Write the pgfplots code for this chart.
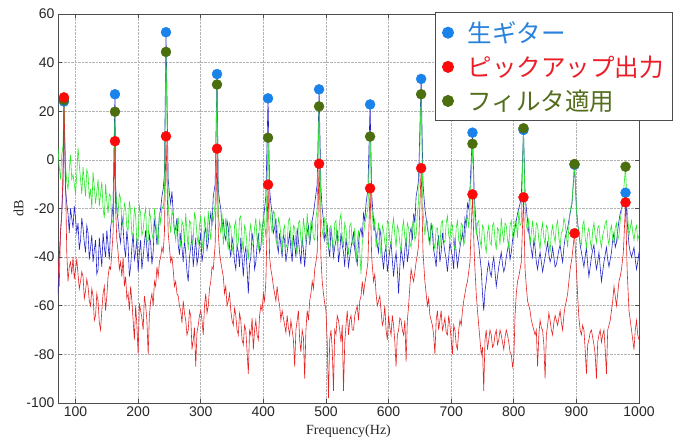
\documentclass[border=0pt]{standalone}
\usepackage{fontspec}
\setmainfont{Liberation Serif}
\newfontfamily\tickfont{Liberation Sans}
\newfontfamily\cjk{Noto Sans CJK JP}
\usepackage{pgfplots}
\usepackage{pgfplotstable}
\pgfplotsset{compat=1.18}
\definecolor{lblue}{RGB}{35,35,200}
\definecolor{lred}{RGB}{228,35,35}
\definecolor{lgreen}{RGB}{40,232,40}
\definecolor{mblue}{RGB}{25,130,235}
\definecolor{mred}{RGB}{250,10,10}
\definecolor{mgreen}{RGB}{75,110,15}
\definecolor{tblue}{RGB}{40,130,220}
\definecolor{tred}{RGB}{235,30,40}
\definecolor{tgreen}{RGB}{85,110,30}

\pgfplotstableread{
f b r g
72 -55 -40 5
74 -40 -52 -3
76 -30 -30 -8
78 -22 -22 2
80 -10 -5 6
81.5 24 25.5 24
84 -12 -8 -2
86 -18 -38 -9
88 -22 -50 -12
90 -30 -44 -4
92 -20 -42 2
94 -24 -47 -8
96 -28 -40 -6
98 -19 -49 -10
100 -24 -45 -14
102 -30 -41 -6
104 -26 -47 5
106 -37 -53 -2
108 -33 -50 -8
110 -24 -46 -14
112 -28 -48 -3
114 -34 -57 -9
116 -38 -54 -15
118 -27 -49 -4
120 -30 -52 -6
122 -41 -58 -16
124 -36 -60 -12
126 -31 -53 -20
128 -42 -56 -5
130 -37 -66 -11
132 -33 -64 -18
134 -47 -55 -13
136 -45 -58 -8
138 -32 -67 -19
140 -38 -70 -14
142 -44 -62 -9
144 -30 -55 -20
146 -36 -52 -24
148 -40 -62 -10
150 -29 -56 -17
152 -35 -48 -22
154 -41 -44 -14
156 -28 -45 -15
158 -24 -38 -26
160 -18 -30 -25
163 27 7.7 19.8
164 -10 -20 -12
166 -21 -33 -19
168 -25 -38 -22
170 -31 -45 -14
172 -34 -42 -16
174 -23 -48 -26
176 -28 -40 -27
178 -36 -52 -18
180 -40 -48 -20
182 -29 -57 -28
184 -35 -55 -29
186 -48 -62 -17
188 -44 -52 -21
190 -36 -58 -31
192 -30 -66 -30
194 -41 -74 -20
196 -38 -60 -23
198 -32 -68 -34
200 -46 -80 -32
202 -38 -59 -19
204 -33 -62 -22
206 -45 -65 -31
208 -40 -70 -29
210 -34 -56 -23
212 -29 -60 -20
214 -37 -66 -34
216 -42 -80 -33
218 -31 -64 -21
220 -34 -58 -24
222 -43 -55 -30
224 -38 -60 -33
226 -25 -50 -20
228 -28 -52 -25
230 -35 -44 -31
232 -30 -48 -35
234 -23 -42 -22
236 -20 -40 -26
238 -15 -36 -19
240 -12 -38 -20
242 -6 -30 -14
244.5 52.5 9.7 44.4
248 -8 -30 -18
250 -14 -36 -25
252 -18 -42 -30
254 -13 -40 -21
256 -22 -45 -23
258 -30 -52 -29
260 -28 -50 -33
262 -24 -55 -26
264 -35 -56 -24
266 -39 -60 -32
268 -30 -62 -36
270 -36 -67 -25
272 -42 -58 -27
274 -33 -63 -34
276 -38 -66 -22
278 -46 -72 -30
280 -50 -70 -37
282 -40 -62 -25
284 -36 -64 -26
286 -31 -78 -35
288 -44 -74 -33
290 -38 -69 -22
292 -32 -85 -24
294 -43 -71 -31
296 -40 -68 -35
298 -34 -64 -27
300 -30 -62 -23
302 -42 -66 -33
304 -38 -72 -38
306 -30 -60 -24
308 -28 -55 -27
310 -37 -63 -34
312 -34 -60 -21
314 -26 -53 -28
316 -22 -50 -33
318 -27 -44 -22
320 -15 -45 -25
323 -10 -35 -18
326 35.3 4.6 31
328 -12 -30 -22
330 -17 -38 -27
332 -20 -42 -30
334 -28 -45 -22
336 -25 -48 -35
338 -31 -55 -29
340 -33 -52 -24
342 -25 -60 -33
344 -28 -58 -37
346 -36 -55 -26
348 -40 -62 -28
350 -32 -66 -35
352 -35 -68 -39
354 -42 -61 -27
356 -45 -64 -25
358 -35 -70 -36
360 -38 -72 -34
362 -44 -63 -24
364 -32 -66 -23
366 -40 -74 -33
368 -48 -76 -38
370 -39 -68 -27
372 -36 -70 -29
374 -45 -79 -36
376 -55 -88 -41
378 -43 -70 -30
380 -40 -72 -26
382 -30 -65 -35
384 -34 -78 -35
386 -45 -70 -28
388 -42 -66 -24
390 -35 -72 -33
392 -30 -74 -37
394 -38 -64 -25
396 -36 -60 -28
398 -28 -62 -35
400 -25 -55 -21
402 -20 -58 -27
404 -15 -50 -32
407.5 25.3 -10.2 9.1
410 -12 -40 -19
412 -18 -45 -26
414 -22 -48 -30
416 -30 -52 -21
418 -28 -55 -22
420 -24 -58 -33
422 -35 -52 -35
424 -38 -57 -24
426 -30 -60 -26
428 -35 -66 -31
430 -40 -62 -38
432 -31 -65 -29
434 -33 -68 -27
436 -42 -71 -36
438 -38 -64 -35
440 -34 -69 -25
442 -30 -72 -24
444 -37 -66 -32
446 -42 -70 -37
448 -31 -74 -27
450 -35 -85 -28
452 -40 -70 -35
454 -28 -66 -39
456 -33 -62 -26
458 -38 -74 -25
460 -43 -79 -33
462 -32 -70 -35
464 -37 -73 -24
466 -44 -90 -29
468 -36 -70 -34
470 -30 -62 -22
472 -27 -66 -30
474 -35 -58 -34
476 -30 -55 -25
478 -25 -50 -26
480 -22 -53 -32
482 -18 -45 -33
484 -14 -42 -24
486 -10 -38 -20
489 29 -1.6 22
492 -12 -40 -23
494 -20 -50 -29
496 -25 -55 -32
498 -33 -59 -24
500 -30 -62 -25
502 -27 -75 -34
504 -36 -98 -36
506 -40 -74 -28
508 -28 -70 -27
510 -33 -78 -33
512 -40 -95 -38
514 -36 -70 -26
516 -33 -72 -25
518 -29 -64 -35
520 -42 -66 -33
522 -38 -70 -25
524 -30 -75 -22
526 -35 -68 -32
528 -38 -95 -36
530 -44 -75 -26
532 -32 -68 -28
534 -37 -62 -35
536 -44 -72 -39
538 -40 -66 -27
540 -36 -64 -26
542 -33 -70 -34
544 -30 -70 -35
546 -37 -64 -28
548 -40 -62 -42
550 -43 -60 -33
552 -34 -66 -29
554 -30 -58 -38
556 -28 -56 -47
558 -32 -50 -34
560 -22 -55 -31
562 -25 -51 -26
564 -18 -48 -24
567 -12 -42 -20
570.5 22.8 -11.7 9.6
573 -14 -40 -19
576 -25 -50 -29
578 -29 -47 -24
580 -30 -55 -36
582 -35 -60 -31
584 -38 -58 -26
586 -28 -56 -33
588 -32 -62 -40
590 -40 -68 -27
592 -45 -66 -29
594 -38 -60 -34
596 -36 -70 -37
598 -46 -74 -25
600 -42 -64 -26
602 -37 -69 -33
604 -34 -72 -35
606 -41 -64 -28
608 -48 -68 -24
610 -42 -75 -31
612 -38 -85 -36
614 -45 -72 -27
616 -55 -70 -29
618 -44 -65 -34
620 -36 -66 -38
622 -40 -70 -28
624 -44 -72 -25
626 -37 -66 -32
628 -32 -83 -35
630 -42 -66 -26
632 -38 -60 -28
634 -30 -52 -34
636 -28 -45 -36
638 -33 -48 -27
640 -22 -50 -24
642 -26 -46 -33
644 -15 -42 -31
646 -12 -39 -22
648 -8 -35 -17
652 33.3 -3.4 27
655 -10 -38 -21
658 -20 -50 -31
660 -24 -55 -25
662 -28 -60 -25
664 -31 -57 -33
666 -34 -64 -35
668 -26 -66 -26
670 -30 -68 -27
672 -37 -72 -34
674 -40 -80 -37
676 -44 -66 -28
678 -35 -62 -28
680 -31 -70 -35
682 -42 -66 -36
684 -38 -62 -26
686 -30 -70 -25
688 -34 -68 -33
690 -38 -65 -34
692 -41 -71 -26
694 -46 -72 -23
696 -40 -64 -31
698 -34 -68 -33
700 -37 -74 -26
702 -40 -80 -27
704 -45 -68 -35
706 -32 -70 -37
708 -38 -76 -28
710 -44 -78 -25
712 -40 -70 -33
714 -36 -66 -35
716 -33 -68 -26
718 -30 -62 -27
720 -34 -58 -35
722 -24 -55 -33
724 -27 -52 -25
726 -18 -50 -23
728 -20 -46 -28
730 -12 -42 -19
734 11.2 -14.2 6.6
737 -15 -40 -21
740 -28 -55 -31
742 -32 -62 -26
744 -35 -68 -25
746 -40 -74 -33
748 -45 -80 -36
750 -55 -77 -27
752 -62 -95 -28
754 -54 -74 -35
756 -50 -70 -38
758 -45 -78 -30
760 -42 -74 -27
762 -46 -70 -34
764 -48 -72 -35
766 -43 -77 -27
768 -40 -76 -26
770 -46 -72 -33
772 -52 -70 -37
774 -48 -76 -28
776 -44 -74 -29
778 -41 -70 -35
780 -38 -72 -24
782 -43 -75 -30
784 -46 -78 -34
786 -44 -73 -26
788 -40 -70 -27
790 -37 -72 -33
792 -34 -75 -36
794 -41 -79 -27
796 -38 -80 -25
798 -33 -85 -31
800 -30 -82 -33
802 -28 -64 -25
804 -25 -55 -26
806 -22 -50 -32
808 -20 -48 -21
810 -18 -45 -27
812 -15 -42 -26
815.5 12.3 -15.4 13
818 -14 -45 -19
820 -20 -52 -27
822 -25 -58 -29
824 -30 -60 -24
826 -33 -62 -35
828 -37 -66 -30
830 -40 -68 -25
832 -33 -70 -31
834 -36 -72 -34
836 -42 -70 -26
838 -45 -85 -27
840 -41 -72 -33
842 -38 -66 -37
844 -42 -69 -29
846 -46 -70 -26
848 -43 -76 -32
850 -40 -90 -35
852 -37 -72 -27
854 -34 -68 -28
856 -39 -63 -34
858 -42 -66 -38
860 -40 -70 -30
862 -36 -72 -27
864 -40 -67 -31
866 -44 -64 -34
868 -43 -66 -27
870 -40 -68 -25
872 -37 -65 -32
874 -35 -62 -35
876 -39 -67 -30
878 -42 -70 -29
880 -36 -64 -24
882 -32 -60 -26
884 -30 -58 -31
886 -28 -55 -36
888 -25 -50 -27
890 -22 -45 -21
893 -18 -40 -17
897 -2 -30.2 -1.7
900 -20 -45 -20
902 -26 -56 -27
904 -30 -65 -29
906 -35 -70 -34
908 -38 -72 -35
910 -41 -68 -27
912 -44 -70 -25
914 -40 -78 -32
916 -36 -88 -36
918 -43 -76 -30
920 -48 -74 -28
922 -44 -71 -33
924 -40 -70 -37
926 -37 -73 -29
928 -35 -76 -26
930 -41 -80 -31
932 -45 -90 -34
934 -42 -75 -28
936 -38 -72 -27
938 -44 -70 -33
940 -50 -75 -36
942 -46 -72 -31
944 -42 -70 -29
946 -39 -78 -26
948 -36 -88 -25
950 -41 -70 -32
952 -44 -68 -35
954 -41 -66 -29
956 -38 -62 -27
958 -33 -58 -33
960 -30 -52 -34
962 -36 -56 -28
964 -34 -60 -26
966 -29 -55 -33
968 -25 -50 -31
970 -22 -48 -25
972 -20 -45 -21
975 -18 -38 -14
978.5 -13.5 -17.5 -2.8
981 -25 -45 -20
984 -35 -62 -31
986 -38 -66 -28
988 -40 -70 -25
990 -38 -74 -30
992 -36 -78 -33
994 -41 -70 -29
996 -45 -66 -27
998 -42 -72 -33
1000 -38 -74 -31
}\spectrum

\pgfplotstableread{
f b r g
81.5 24 25.7 24.6
163 27 7.7 19.8
244.5 52.5 9.7 44.4
326 35.3 4.6 31
407.5 25.3 -10.2 9.1
489 29 -1.6 22
570.5 22.8 -11.7 9.6
652 33.3 -3.4 27
734 11.2 -14.2 6.6
815.5 12.3 -15.4 13
897 -2 -30.2 -1.7
978.5 -13.5 -17.5 -2.8
}\peaks

\begin{document}
\begin{tikzpicture}
\useasboundingbox (-58pt,-36pt) rectangle (616pt,403pt);
\begin{axis}[
  at={(0,0)}, anchor=south west,
  width=581pt, height=389pt, scale only axis,
  xmin=72, xmax=1000, ymin=-100, ymax=60,
  xtick={100,200,...,1000}, ytick={-100,-80,...,60},
  grid=major,
  major grid style={densely dotted, gray!60, line width=0.6pt},
  axis line style={black!70, line width=0.9pt},
  tick style={black!70, line width=0.6pt},
  tick align=inside, major tick length=4pt,
  /pgf/number format/assume math mode=true,
  /pgf/number format/1000 sep={},
  ticklabel style={font=\tickfont\fontsize{14}{14}\selectfont, text=black!85},
  xlabel={Frequency(Hz)}, ylabel={dB},
  label style={font=\fontsize{14}{14}\selectfont, text=black!85},
  xlabel style={yshift=-1pt},
  ylabel style={yshift=-4pt},
  legend cell align=left,
  legend style={at={(rel axis cs:1,1)}, anchor=north east, xshift=34pt, yshift=2pt,
    draw=black!70, line width=1pt, fill=white,
    font=\cjk\fontsize{24.5}{28}\selectfont, row sep=8pt, column sep=12pt,
    inner xsep=7pt, inner ysep=7pt},
]
\addplot[lblue, line width=0.6pt, forget plot] table[x=f, y=b] {\spectrum};
\addplot[lgreen, line width=0.6pt, forget plot] table[x=f, y=g] {\spectrum};
\addplot[lred, line width=0.6pt, forget plot] table[x=f, y=r] {\spectrum};
\addplot[only marks, mark=*, mark size=5pt, color=mblue, forget plot] table[x=f, y=b] {\peaks};
\addplot[only marks, mark=*, mark size=5pt, color=mgreen, forget plot] table[x=f, y=g] {\peaks};
\addplot[only marks, mark=*, mark size=5pt, color=mred, forget plot] table[x=f, y=r] {\peaks};
\addlegendimage{only marks, mark=*, mark size=5.5pt, color=mblue}
\addlegendentry{\textcolor{tblue}{生ギター}}
\addlegendimage{only marks, mark=*, mark size=5.5pt, color=mred}
\addlegendentry{\textcolor{tred}{ピックアップ出力}}
\addlegendimage{only marks, mark=*, mark size=5.5pt, color=mgreen}
\addlegendentry{\textcolor{tgreen}{フィルタ適用}}
\end{axis}
\end{tikzpicture}
\end{document}
